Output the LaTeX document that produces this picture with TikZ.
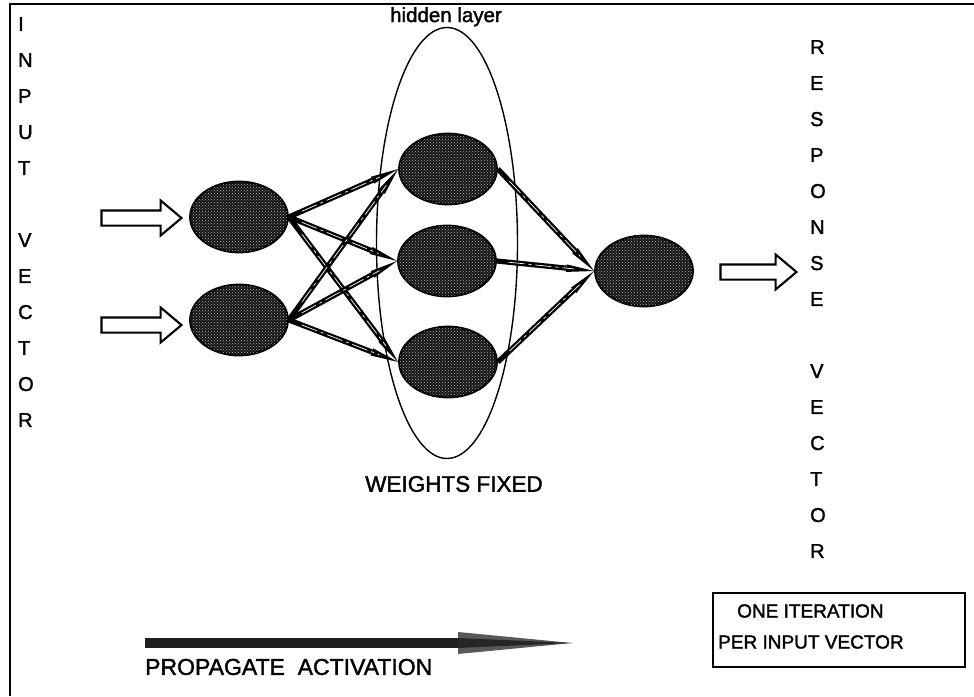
\documentclass[tikz,border=0pt]{standalone}
\usepackage{fontspec}
\setmainfont{Liberation Sans}[FakeBold=1.6]
\usetikzlibrary{shapes.geometric,shapes.arrows,calc,patterns}

% weight link: thick shaft from node anchor #1, tapering into a point at node anchor #2
\newcommand\weightlink[2]{%
  \coordinate (wa) at (#1);
  \coordinate (wb) at (#2);
  \coordinate (wh) at ($(wb)!28pt!(wa)$);
  \draw[line width=5.2pt] (wa) -- (wh);
  \fill[black] ($(wh)!3.8pt!90:(wb)$) -- (wb) -- ($(wh)!3.8pt!-90:(wb)$) -- cycle;
  \draw[white, line width=0.7pt, dash pattern=on 16pt off 4pt on 3pt off 4pt]
    ($(wa)!0.12!(wb)$) -- ($(wb)!20pt!(wa)$);
}

\tikzset{
  unit/.style={ellipse, draw, line width=2.8pt, fill=black!92, minimum width=97pt,
    minimum height=70pt, inner sep=0pt,
    postaction={pattern=crosshatch dots, pattern color=black!30}},
  openarrow/.style={single arrow, draw, line width=2.1pt, fill=white, inner sep=0pt,
    minimum height=#1, single arrow head extend=10pt, text height=13pt, text width=0pt,
    single arrow tip angle=80},
  label/.style={inner sep=0pt, font=\fontsize{20}{24}\selectfont},
  column/.style={inner sep=0pt, align=left, font=\fontsize{20}{36}\selectfont}
}

\begin{document}
\begin{tikzpicture}[x=1pt, y=-1pt]
  \useasboundingbox (0,0) rectangle (974,696);
  \fill[white] (0,0) rectangle (974,696);

  % frame
  \draw[line width=2pt] (10,696) -- (10,4) -- (974,4);

  % side captions
  \node[column, anchor=north west] (invec) at (18,17)
    {I\\N\\P\\U\\T\\[36pt]V\\E\\C\\T\\O\\R};
  \node[column, anchor=north west] (outvec) at (810,40)
    {R\\E\\S\\P\\O\\N\\S\\E\\[36pt]V\\E\\C\\T\\O\\R};

  % hidden layer enclosure
  \node[ellipse, draw, line width=1.4pt, minimum width=141pt, minimum height=431pt,
    inner sep=0pt] (layer) at (447,243) {};
  \node[label, anchor=north, font=\fontsize{20.5}{24}\selectfont] (hidlab) at (446,7)
    {hidden layer};
  \node[label, font=\fontsize{22.5}{26}\selectfont] (fixed) at (454,484) {WEIGHTS FIXED};

  % units
  \node[unit] (i1) at (239,217) {};
  \node[unit] (i2) at (239,320) {};
  \node[unit] (h1) at (448,169) {};
  \node[unit] (h2) at (447,261) {};
  \node[unit] (h3) at (448,362) {};
  \node[unit] (o)  at (644,271) {};

  % weights
  \weightlink{i1.east}{h1.west}
  \weightlink{i1.east}{h2.west}
  \weightlink{i1.east}{h3.west}
  \weightlink{i2.east}{h1.west}
  \weightlink{i2.east}{h2.west}
  \weightlink{i2.east}{h3.west}
  \weightlink{h1.east}{o.west}
  \weightlink{h2.east}{o.west}
  \weightlink{h3.east}{o.west}

  % input and response arrows
  \node[openarrow=80pt] (in1) at (137,218) {};
  \node[openarrow=80pt] (in2) at (137,325) {};
  \node[openarrow=76pt] (resp) at (754,272) {};

  % propagation arrow
  \fill[black!88] (145,638) -- (458,638) -- (458,648) -- (145,648) -- cycle;
  \fill[black!65] (458,632) -- (572,643) -- (458,654) -- cycle;
  \fill[black!85] (458,638) -- (572,643) -- (458,648) -- cycle;
  \node[label, anchor=west, font=\fontsize{23}{26}\selectfont] (prop) at (145,667)
    {PROPAGATE\ \ ACTIVATION};

  % iteration note
  \node[draw, line width=1.3pt, minimum width=252pt, minimum height=74pt, inner sep=0pt]
    (note) at (839,630) {};
  \node[inner sep=0pt, anchor=west, font=\fontsize{19}{31}\selectfont] (note1) at (737,611)
    {ONE ITERATION};
  \node[inner sep=0pt, anchor=west, font=\fontsize{19}{31}\selectfont] (note2) at (718,642)
    {PER INPUT VECTOR};
\end{tikzpicture}
\end{document}
